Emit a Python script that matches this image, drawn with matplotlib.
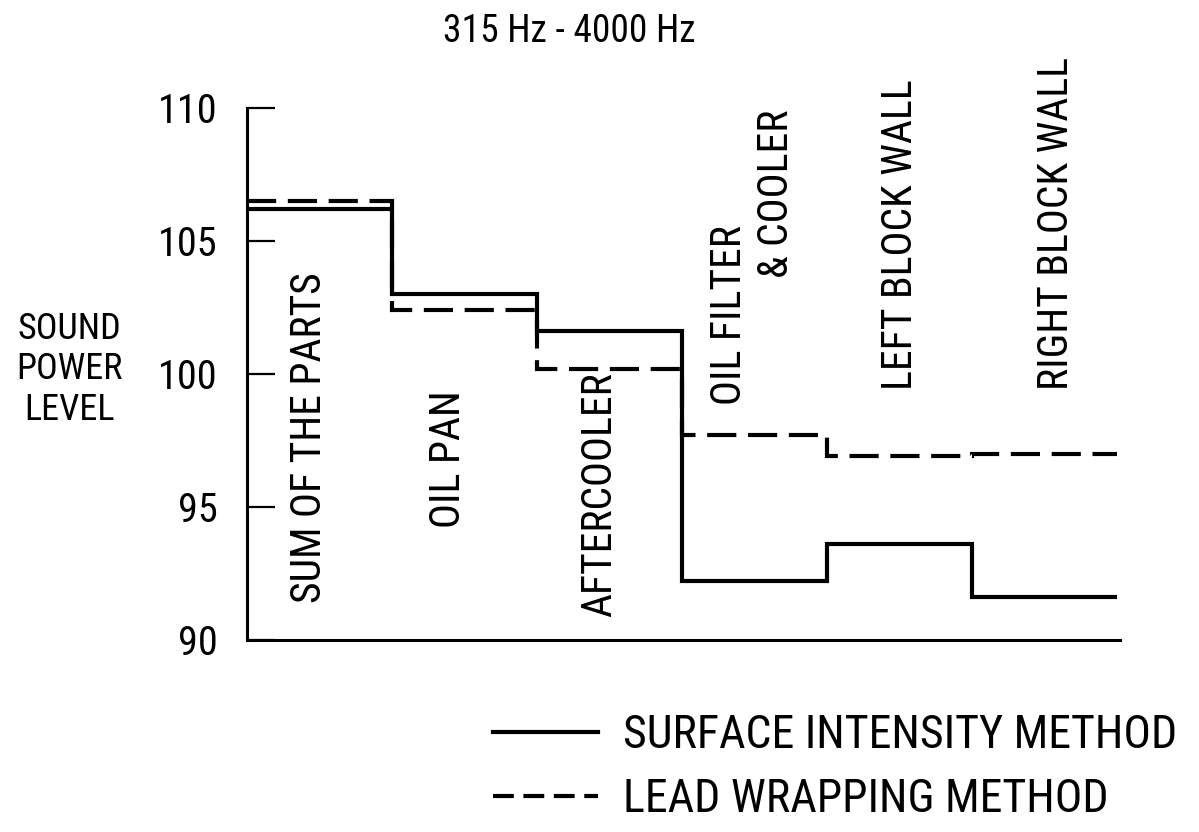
import matplotlib
matplotlib.use("Agg")
import matplotlib.pyplot as plt
from matplotlib.lines import Line2D

plt.rcParams['font.family'] = ['Roboto Condensed', 'DejaVu Sans']

# values (sound power level per part)
parts = ['SUM OF THE PARTS', 'OIL PAN', 'AFTERCOOLER', 'OIL FILTER', 'LEFT BLOCK WALL', 'RIGHT BLOCK WALL']
surface_intensity = [106.2, 103.0, 101.6, 92.2, 93.6, 91.6]
lead_wrapping = [106.5, 102.4, 100.2, 97.7, 96.9, 97.0]
yticks = [90, 95, 100, 105, 110]
method_names = ['SURFACE INTENSITY METHOD', 'LEAD WRAPPING METHOD']

edges = list(range(len(parts) + 1))

fig = plt.figure(figsize=(11.99, 8.32), dpi=100)
ax = fig.add_axes([0.206, 0.2308, 0.728, 0.6394])

ax.stairs(surface_intensity, edges, baseline=None, color='black', lw=3.0)
ax.stairs(lead_wrapping, edges, baseline=None, color='black', lw=3.0,
          linestyle=(0, (7, 2.8)))

ax.set_xlim(0, 6.02)
ax.set_ylim(90, 110)
ax.set_xticks([])
ax.set_yticks(yticks)
ax.tick_params(axis='y', direction='in', length=20, width=1.6, pad=21, labelsize=29)
for s in ['top', 'right']:
    ax.spines[s].set_visible(False)
for s in ['left', 'bottom']:
    ax.spines[s].set_linewidth(2.2)

# part names, written vertically inside each step
label_pos = [(0.43, 91.4), (1.39, 94.2), (2.43, 90.85), (3.33, 98.85), (4.51, 99.4), (5.58, 99.4)]
for name, (x, y) in zip(parts, label_pos):
    ax.text(x, y, name, rotation=90, ha='center', va='bottom', fontsize=30)
ax.text(3.65, 103.6, '& COOLER', rotation=90, ha='center', va='bottom', fontsize=30)

fig.text(0.475, 0.962, '315 Hz - 4000 Hz', ha='center', va='center', fontsize=27)
fig.text(0.058, 0.556, 'SOUND\nPOWER\nLEVEL', ha='center', va='center', fontsize=26,
         linespacing=1.15)

handles = [Line2D([], [], color='black', lw=3.0),
           Line2D([], [], color='black', lw=3.0, linestyle=(0, (5, 2.3)))]
fig.legend(handles, method_names, loc='upper left', bbox_to_anchor=(0.411, 0.143),
           frameon=False, fontsize=33, handlelength=2.3, handletextpad=0.55,
           labelspacing=0.43, borderpad=0, borderaxespad=0)

fig.savefig('out.png', dpi=100)
